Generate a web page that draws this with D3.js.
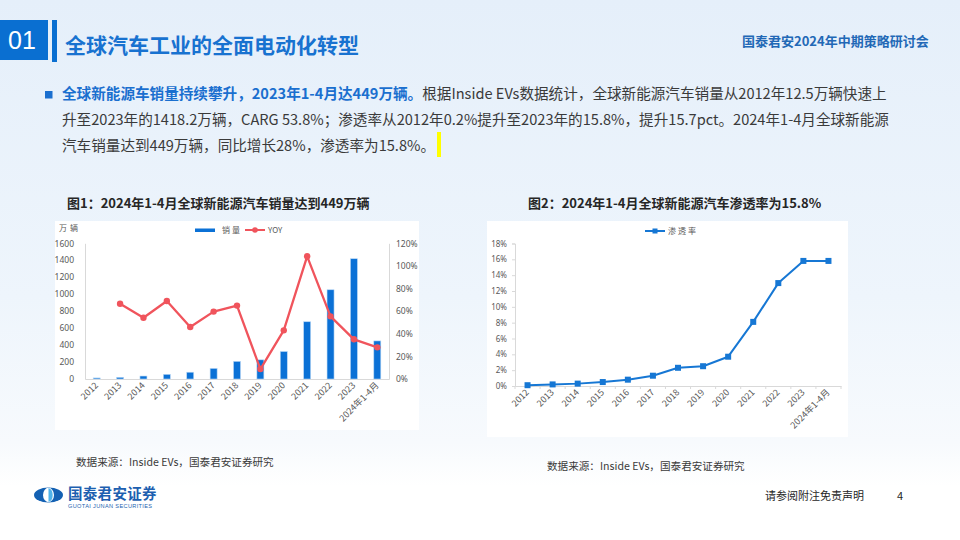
<!DOCTYPE html>
<html><head><meta charset="utf-8">
<script src="https://cdn.jsdelivr.net/npm/d3@7"></script>
<style>
html,body{margin:0;padding:0;background:#fff;}
svg{display:block;font-family:"Noto Sans CJK SC","Noto Sans",sans-serif;}
</style></head>
<body><svg id="c" width="960" height="540"></svg>
<script>
// ---------- data ----------
const categories = ["2012","2013","2014","2015","2016","2017","2018","2019","2020","2021","2022","2023","2024年1-4月"];
const sales = [12.5, 20, 35, 55, 80, 125, 208, 226, 324, 675, 1052, 1418.2, 449];      // 万辆
const yoy = [null, 66.6, 54.2, 69.0, 46.0, 59.6, 64.9, 8.8, 43.0, 108.5, 55.4, 35.1, 28.0]; // %
const penetration = [0.1, 0.2, 0.3, 0.5, 0.8, 1.3, 2.3, 2.5, 3.7, 8.1, 13.0, 15.8, 15.8]; // %
const salesTicks = [0, 200, 400, 600, 800, 1000, 1200, 1400, 1600];
const yoyTicks = [0, 20, 40, 60, 80, 100, 120];
const penTicks = [0, 2, 4, 6, 8, 10, 12, 14, 16, 18];
const seriesNames = ["销量", "YOY", "渗透率"];

const svg = d3.select("#c");
const defs = svg.append("defs");
const g0 = defs.append("linearGradient").attr("id","bg").attr("x1",0).attr("y1",0).attr("x2",0).attr("y2",1);
g0.append("stop").attr("offset","0").attr("stop-color","#e5effa");
g0.append("stop").attr("offset","0.55").attr("stop-color","#eef5fc");
g0.append("stop").attr("offset","0.82").attr("stop-color","#f7fafd");
g0.append("stop").attr("offset","0.9").attr("stop-color","#ffffff");
svg.append("rect").attr("width",960).attr("height",540).attr("fill","url(#bg)");

// ---------- header ----------
svg.append("rect").attr("x",0).attr("y",20).attr("width",48).attr("height",40).attr("fill","#0a6fd1");
svg.append("text").attr("x",22).attr("y",48.5).attr("text-anchor","middle").attr("fill","#fff")
  .attr("font-size",25).attr("font-family","Liberation Sans, Arial, sans-serif").text("01");
svg.append("rect").attr("x",52).attr("y",20).attr("width",5).attr("height",42).attr("fill","#0a6fd1");
svg.append("text").attr("x",65).attr("y",53).attr("fill","#1872d0").attr("font-size",21).attr("font-weight","bold")
  .text("全球汽车工业的全面电动化转型");
svg.append("text").attr("x",742).attr("y",46).attr("fill","#2268b6").attr("font-size",13).attr("font-weight","bold")
  .text("国泰君安2024年中期策略研讨会");

// ---------- paragraph ----------
svg.append("rect").attr("x",45).attr("y",91).attr("width",7.5).attr("height",7.5).attr("fill","#1a6fcf");
const p1 = svg.append("text").attr("x",62).attr("y",99).attr("font-size",14.6).attr("fill","#3a3a3a");
p1.append("tspan").attr("fill","#1a6fcf").attr("font-weight","bold").text("全球新能源车销量持续攀升，2023年1-4月达449万辆。");
p1.append("tspan").text("根据Inside EVs数据统计，全球新能源汽车销量从2012年12.5万辆快速上");
svg.append("text").attr("x",62).attr("y",125).attr("font-size",14.6).attr("fill","#3a3a3a")
  .text("升至2023年的1418.2万辆，CARG 53.8%；渗透率从2012年0.2%提升至2023年的15.8%，提升15.7pct。2024年1-4月全球新能源");
svg.append("text").attr("x",62).attr("y",151).attr("font-size",14.6).attr("fill","#3a3a3a")
  .text("汽车销量达到449万辆，同比增长28%，渗透率为15.8%。");
svg.append("rect").attr("x",437).attr("y",132).attr("width",4).attr("height",25).attr("fill","#ffff00");

// ---------- chart titles ----------
svg.append("text").attr("x",67).attr("y",208).attr("font-size",13).attr("font-weight","bold").attr("fill","#262626")
  .text("图1：2024年1-4月全球新能源汽车销量达到449万辆");
svg.append("text").attr("x",528).attr("y",208).attr("font-size",13).attr("font-weight","bold").attr("fill","#262626")
  .text("图2：2024年1-4月全球新能源汽车渗透率为15.8%");

const axisCol = "#d9d9d9", labCol = "#595959";

// ---------- chart 1 ----------
svg.append("rect").attr("x",55).attr("y",221).attr("width",364).attr("height",209).attr("fill","#fff");
const c1 = svg.append("g");
const x1 = d3.scaleBand().domain(categories).range([85,389]).padding(0);
const yL = d3.scaleLinear().domain([0,1600]).range([379,243.3]);
const yR = d3.scaleLinear().domain([0,120]).range([379,243.3]);

const axL = c1.append("g").attr("transform","translate(85,0)")
  .call(d3.axisLeft(yL).tickValues(salesTicks).tickSize(0).tickPadding(11).tickFormat(d=>String(d)));
const axR = c1.append("g").attr("transform","translate(389,0)")
  .call(d3.axisRight(yR).tickValues(yoyTicks).tickSize(0).tickPadding(7).tickFormat(d=>d+"%"));
const axB1 = c1.append("g").attr("transform","translate(0,379)")
  .call(d3.axisBottom(x1).tickSize(0).tickFormat(""));
[axL,axR,axB1].forEach(a=>{
  a.select(".domain").attr("stroke",axisCol);
  a.selectAll("text").attr("fill",labCol).attr("font-size",8.5).attr("font-family","Noto Sans, sans-serif");
});
c1.selectAll(".xl1").data(categories).join("text").attr("class","xl1")
  .attr("transform",d=>`translate(${x1(d)+x1.bandwidth()/2+2},${386}) rotate(-45)`)
  .attr("text-anchor","end").attr("font-size",9).attr("fill",labCol).text(d=>d);

c1.selectAll(".bar").data(sales).join("rect").attr("class","bar")
  .attr("x",(d,i)=>x1(categories[i])+x1.bandwidth()/2-3.5).attr("width",7)
  .attr("y",d=>yL(d)).attr("height",d=>yL(0)-yL(d))
  .attr("fill","#0b71d6").attr("stroke","#b9d8f5").attr("stroke-width",0.6);

const yoyPts = yoy.map((v,i)=>({v,i})).filter(d=>d.v!==null);
c1.append("path").datum(yoyPts)
  .attr("d",d3.line().x(d=>x1(categories[d.i])+x1.bandwidth()/2).y(d=>yR(d.v)))
  .attr("fill","none").attr("stroke","#f0545c").attr("stroke-width",2.3).attr("stroke-linejoin","round");
c1.selectAll(".yp").data(yoyPts).join("circle").attr("class","yp")
  .attr("cx",d=>x1(categories[d.i])+x1.bandwidth()/2).attr("cy",d=>yR(d.v)).attr("r",3.2).attr("fill","#f0545c");

c1.append("text").attr("x",59).attr("y",231).attr("font-size",8).attr("fill",labCol).attr("letter-spacing",3).text("万辆");
c1.append("rect").attr("x",195).attr("y",228.5).attr("width",20).attr("height",3.5).attr("fill","#0b71d6");
c1.append("text").attr("x",222).attr("y",233).attr("font-size",8).attr("fill",labCol).attr("letter-spacing",2).text(seriesNames[0]);
c1.append("line").attr("x1",245).attr("x2",265).attr("y1",230).attr("y2",230).attr("stroke","#f0545c").attr("stroke-width",2);
c1.append("circle").attr("cx",255).attr("cy",230).attr("r",2.8).attr("fill","#f0545c");
c1.append("text").attr("x",268).attr("y",233).attr("font-size",8).attr("fill",labCol).text(seriesNames[1]);

// ---------- chart 2 ----------
svg.append("rect").attr("x",487).attr("y",221).attr("width",361).attr("height",216).attr("fill","#fff");
const c2 = svg.append("g");
const x2 = d3.scaleBand().domain(categories).range([515,841]).padding(0);
const y2 = d3.scaleLinear().domain([0,18]).range([386,243.5]);
const ax2L = c2.append("g").attr("transform","translate(515,0)")
  .call(d3.axisLeft(y2).tickValues(penTicks).tickSize(3).tickPadding(5).tickFormat(d=>d+"%"));
const ax2B = c2.append("g").attr("transform","translate(0,386)")
  .call(d3.axisBottom(x2).tickSize(0).tickFormat(""));
[ax2L,ax2B].forEach(a=>{
  a.select(".domain").attr("stroke",axisCol);
  a.selectAll("line").attr("stroke",axisCol);
  a.selectAll("text").attr("fill",labCol).attr("font-size",8).attr("font-family","Noto Sans, sans-serif");
});
const bounds = categories.map(d=>x2(d)).concat([841]);
c2.selectAll(".xt").data(bounds).join("line").attr("class","xt")
  .attr("x1",d=>d).attr("x2",d=>d).attr("y1",386).attr("y2",389).attr("stroke",axisCol);
c2.selectAll(".xl2").data(categories).join("text").attr("class","xl2")
  .attr("transform",d=>`translate(${x2(d)+x2.bandwidth()/2+2},${393}) rotate(-45)`)
  .attr("text-anchor","end").attr("font-size",9).attr("fill",labCol).text(d=>d);
c2.append("path").datum(penetration)
  .attr("d",d3.line().x((d,i)=>x2(categories[i])+x2.bandwidth()/2).y(d=>y2(d)))
  .attr("fill","none").attr("stroke","#1677d4").attr("stroke-width",2).attr("stroke-linejoin","round");
c2.selectAll(".pp").data(penetration).join("rect").attr("class","pp")
  .attr("x",(d,i)=>x2(categories[i])+x2.bandwidth()/2-3).attr("y",d=>y2(d)-3)
  .attr("width",6).attr("height",6).attr("fill","#1677d4");
c2.append("line").attr("x1",645).attr("x2",665).attr("y1",231).attr("y2",231).attr("stroke","#1677d4").attr("stroke-width",2);
c2.append("rect").attr("x",652.5).attr("y",228.5).attr("width",5).attr("height",5).attr("fill","#1677d4");
c2.append("text").attr("x",668).attr("y",234).attr("font-size",8).attr("fill",labCol).attr("letter-spacing",2).text(seriesNames[2]);

// ---------- sources ----------
svg.append("text").attr("x",76).attr("y",466).attr("font-size",10.6).attr("fill","#3a3a3a").text("数据来源：Inside EVs，国泰君安证券研究");
svg.append("text").attr("x",547).attr("y",470).attr("font-size",10.6).attr("fill","#3a3a3a").text("数据来源：Inside EVs，国泰君安证券研究");

// ---------- footer ----------
const lg = svg.append("g");
lg.append("ellipse").attr("cx",48.5).attr("cy",495).attr("rx",14.5).attr("ry",7.5).attr("fill","#1461b3");
lg.append("ellipse").attr("cx",48.5).attr("cy",495).attr("rx",5.5).attr("ry",7.2).attr("fill","#ffffff");
lg.append("path").attr("d","M48.5,488 A5.5,7.2 0 0 1 48.5,502 Z").attr("fill","#4fb3ea");
lg.append("text").attr("x",68).attr("y",498.5).attr("font-size",14.5).attr("font-weight","bold").attr("fill","#1d5fb0").attr("letter-spacing",0.3).text("国泰君安证券");
lg.append("text").attr("x",68).attr("y",507.5).attr("font-size",5.6).attr("fill","#1d5fb0").attr("font-family","Liberation Sans, Arial, sans-serif").attr("letter-spacing",0.35).text("GUOTAI JUNAN SECURITIES");
svg.append("text").attr("x",765).attr("y",500).attr("font-size",11).attr("fill","#262626").text("请参阅附注免责声明");
svg.append("text").attr("x",897).attr("y",500).attr("font-size",11).attr("fill","#262626").text("4");
</script></body></html>
